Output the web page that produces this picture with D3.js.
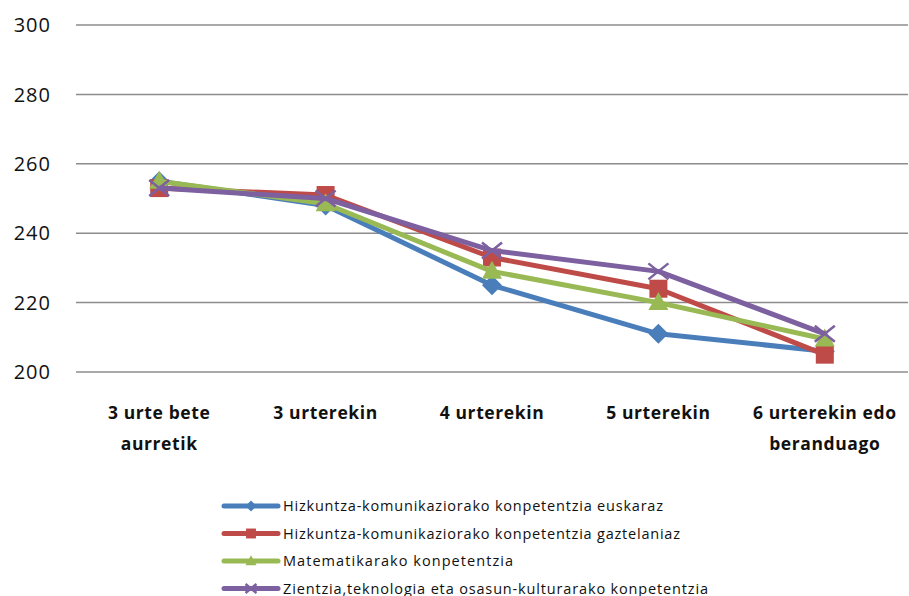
<!DOCTYPE html>
<html><head><meta charset="utf-8">
<script src="https://cdn.jsdelivr.net/npm/d3@7"></script>
<style>body{margin:0;background:#fff}svg{display:block}</style>
</head><body><svg id="c" width="909" height="596"></svg>
<script>
const categories = [["3 urte bete","aurretik"],["3 urterekin"],["4 urterekin"],["5 urterekin"],["6 urterekin  edo","beranduago"]];
const euskaraz = [255, 248, 225, 211, 206];
const gaztelaniaz = [253, 251, 233, 224, 205];
const matematika = [255, 248.5, 229, 220, 209.5];
const zientzia = [253, 250, 235, 229, 211];
const seriesNames = ["Hizkuntza-komunikaziorako  konpetentzia euskaraz","Hizkuntza-komunikaziorako  konpetentzia gaztelaniaz","Matematikarako  konpetentzia","Zientzia,teknologia eta osasun-kulturarako  konpetentzia"];
const yTicks = [200, 220, 240, 260, 280, 300];

// styles
const colors = ["#4A7EBB","#BE4B48","#98B954","#7D60A0"];
const markers = ["diamond","square","triangle","x"];
const legendTextLen = [380, 397, 230, 425];
const data = [euskaraz, gaztelaniaz, matematika, zientzia];

const svg = d3.select("#c");
const x = d3.scaleBand().domain(d3.range(categories.length)).range([76, 908]);
const y = d3.scaleLinear().domain([200, 300]).range([372, 25]);

// grid
svg.append("g").selectAll("line").data(yTicks).join("line")
  .attr("x1", 76).attr("x2", 908).attr("y1", d => y(d)).attr("y2", d => y(d))
  .attr("stroke", "#8c8c8c").attr("stroke-width", 1.5);
svg.append("g").selectAll("text").data(yTicks).join("text")
  .attr("x", 51).attr("y", d => y(d)).attr("dy", "0.36em").attr("text-anchor", "end")
  .attr("font-family", "Open Sans, sans-serif").attr("font-size", 20).attr("letter-spacing", 1)
  .attr("fill", "#111").text(d => d);

// categories
const cx = i => x(i) + x.bandwidth() / 2;
const cg = svg.append("g");
categories.forEach((lines, i) => {
  const t = cg.append("text").attr("text-anchor", "middle")
    .attr("font-family", "Open Sans, sans-serif").attr("font-weight", "bold").attr("font-size", 17.5)
    .attr("letter-spacing", 0.6).attr("fill", "#111");
  lines.forEach((l, j) => t.append("tspan").attr("x", cx(i)).attr("y", 419 + j * 31).text(l));
});

function marker(g, type, px, py, color, s) {
  if (type === "diamond") {
    g.append("path").attr("d", `M${px},${py - s}L${px + s},${py}L${px},${py + s}L${px - s},${py}Z`).attr("fill", color);
  } else if (type === "square") {
    g.append("rect").attr("x", px - s * 0.9).attr("y", py - s * 0.9).attr("width", s * 1.8).attr("height", s * 1.8).attr("fill", color);
  } else if (type === "triangle") {
    g.append("path").attr("d", `M${px},${py - s * 1.05}L${px + s},${py + s * 0.75}L${px - s},${py + s * 0.75}Z`).attr("fill", color);
  } else {
    g.append("path").attr("d", `M${px - s},${py - s * 0.8}L${px + s},${py + s * 0.8}M${px + s},${py - s * 0.8}L${px - s},${py + s * 0.8}`)
      .attr("stroke", color).attr("stroke-width", 2.5).attr("fill", "none");
  }
}

const line = d3.line().x((d, i) => cx(i)).y(d => y(d));
data.forEach((vals, k) => {
  const g = svg.append("g");
  g.append("path").datum(vals).attr("d", line).attr("fill", "none")
    .attr("stroke", colors[k]).attr("stroke-width", 5).attr("stroke-linejoin", "round");
  vals.forEach((v, i) => marker(g, markers[k], cx(i), y(v), colors[k], 10));
});

// legend
const lg = svg.append("g");
seriesNames.forEach((name, k) => {
  const ly = 506 + k * 27.5;
  lg.append("line").attr("x1", 224).attr("x2", 278).attr("y1", ly).attr("y2", ly)
    .attr("stroke", colors[k]).attr("stroke-width", 5).attr("stroke-linecap", "round");
  marker(lg, markers[k], 251, ly, colors[k], 5.5);
  lg.append("text").attr("x", 283).attr("y", ly).attr("dy", "0.36em")
    .attr("font-family", "Open Sans, sans-serif").attr("font-size", 14.5)
    .attr("textLength", legendTextLen[k]).attr("lengthAdjust", "spacing")
    .attr("fill", "#111").text(name);
});
</script></body></html>
